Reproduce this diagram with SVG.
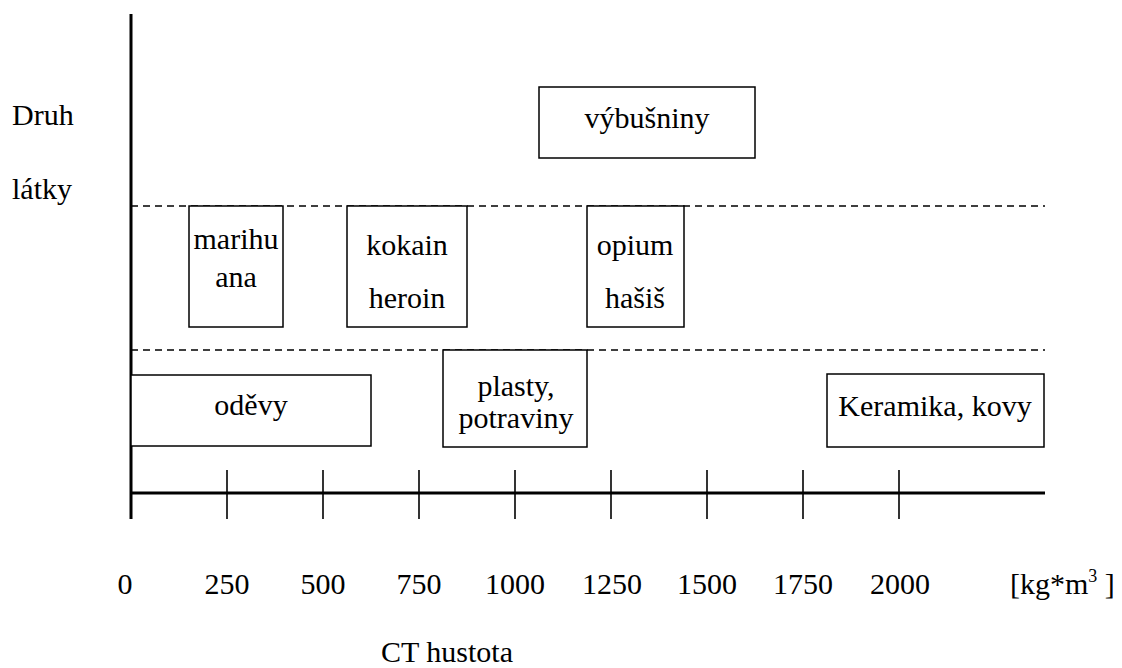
<svg xmlns="http://www.w3.org/2000/svg" width="1122" height="668" viewBox="0 0 1122 668">
<style>
text{font-family:"Liberation Serif","Times New Roman",serif;font-size:30px;fill:#000}
.box{fill:#fff;stroke:#000;stroke-width:1.5}
.axis{stroke:#000;stroke-width:3;fill:none}
.tick{stroke:#000;stroke-width:1.6}
.dash{stroke:#000;stroke-width:1.5;stroke-dasharray:7 5}
.c{text-anchor:middle}
</style>
<rect width="1122" height="668" fill="#fff"/>
<g id="connectors">
<line class="dash" x1="131" y1="206" x2="1045" y2="206"/>
<line class="dash" x1="131" y1="350" x2="1045" y2="350"/>
<line class="axis" x1="131" y1="14" x2="131" y2="519"/>
<line class="axis" x1="131" y1="493" x2="1045" y2="493"/>
<line class="tick" x1="227" y1="470" x2="227" y2="519"/>
<line class="tick" x1="323" y1="470" x2="323" y2="519"/>
<line class="tick" x1="419" y1="470" x2="419" y2="519"/>
<line class="tick" x1="515" y1="470" x2="515" y2="519"/>
<line class="tick" x1="611" y1="470" x2="611" y2="519"/>
<line class="tick" x1="707" y1="470" x2="707" y2="519"/>
<line class="tick" x1="803" y1="470" x2="803" y2="519"/>
<line class="tick" x1="899" y1="470" x2="899" y2="519"/>
</g>
<g id="vybusniny"><rect class="box" x="539" y="87" width="216" height="71"/><text class="c" x="647" y="128">výbušniny</text></g>
<g id="marihuana"><rect class="box" x="189" y="206" width="94" height="121"/><text class="c" x="236" y="249">marihu</text><text class="c" x="236" y="287">ana</text></g>
<g id="kokain"><rect class="box" x="347" y="206" width="120" height="121"/><text class="c" x="407" y="255">kokain</text><text class="c" x="407" y="308">heroin</text></g>
<g id="opium"><rect class="box" x="587" y="206" width="97" height="121"/><text class="c" x="635" y="255">opium</text><text class="c" x="635" y="308">hašiš</text></g>
<g id="odevy"><rect class="box" x="131" y="375" width="240" height="71"/><text class="c" x="251" y="415">oděvy</text></g>
<g id="plasty"><rect class="box" x="443" y="350" width="144" height="97"/><text class="c" x="516" y="396">plasty,</text><text class="c" x="516" y="428">potraviny</text></g>
<g id="keramika"><rect class="box" x="827" y="374" width="217" height="73"/><text class="c" x="935" y="416">Keramika, kovy</text></g>
<g id="labels">
<text x="12" y="125">Druh</text>
<text x="12" y="199">látky</text>
<text class="c" x="125" y="594">0</text>
<text class="c" x="227" y="594">250</text>
<text class="c" x="323" y="594">500</text>
<text class="c" x="419" y="594">750</text>
<text class="c" x="515" y="594">1000</text>
<text class="c" x="612" y="594">1250</text>
<text class="c" x="707" y="594">1500</text>
<text class="c" x="803" y="594">1750</text>
<text class="c" x="900" y="594">2000</text>
<text x="1010" y="594">[kg*m<tspan font-size="18" dy="-12">3</tspan><tspan dy="12"> ]</tspan></text>
<text class="c" x="447" y="662">CT hustota</text>
</g>
</svg>
